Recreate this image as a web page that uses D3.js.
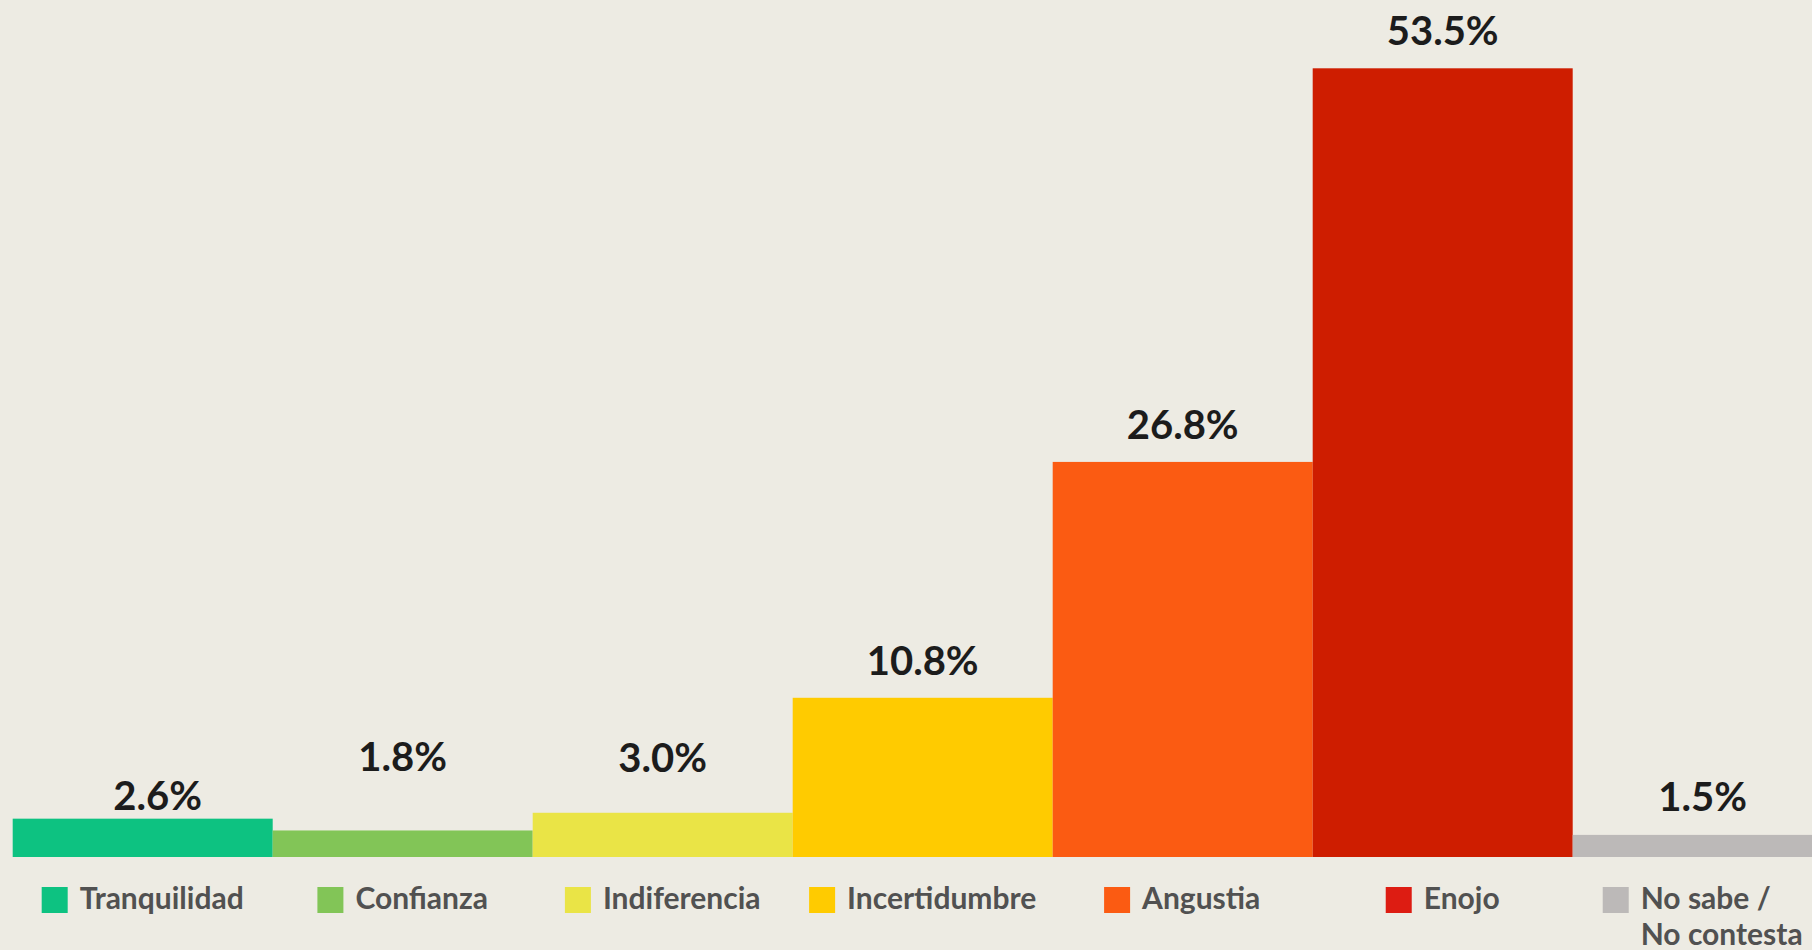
<!DOCTYPE html>
<html>
<head>
<meta charset="utf-8">
<script src="https://cdn.jsdelivr.net/npm/d3@7"></script>
<style>
  html, body { margin: 0; padding: 0; background: #edebe3; overflow: hidden; }
  svg { display: block; }
</style>
</head>
<body>
<svg width="1812" height="950"></svg>
<script>
var categories = ['Tranquilidad', 'Confianza', 'Indiferencia', 'Incertidumbre', 'Angustia', 'Enojo', 'No sabe / No contesta'];
var values = [2.6, 1.8, 3.0, 10.8, 26.8, 53.5, 1.5];
var valueLabels = ['2.6%', '1.8%', '3.0%', '10.8%', '26.8%', '53.5%', '1.5%'];
var legendLines = [['Tranquilidad'], ['Confianza'], ['Indiferencia'], ['Incertidumbre'], ['Angustia'], ['Enojo'], ['No sabe /', 'No contesta']];

var barColor = d3.scaleOrdinal()
  .domain(categories)
  .range(['#0dc281', '#82c557', '#eae446', '#ffcb00', '#fb5b12', '#ce1d00', '#bcb9b8']);

// legend swatch for Enojo is a brighter red than the bar
var swatchColor = d3.scaleOrdinal()
  .domain(categories)
  .range(['#0dc281', '#82c557', '#eae446', '#ffcb00', '#fb5b12', '#dd1c12', '#bcb9b8']);

var x = d3.scaleBand()
  .domain(categories)
  .range([12.7, 12.7 + 7 * 260])
  .padding(0);

var y = d3.scaleLinear()
  .domain([0, 53.5])
  .range([857, 68.3]);

// label baseline distance above bar top (small bars are staggered)
var labelGap = d3.scaleOrdinal()
  .domain(categories)
  .range([9, 59, 41, 23, 23, 23, 24]);
// first label sits a bit right of its bar centre
var labelShift = d3.scaleOrdinal()
  .domain(categories)
  .range([15, 0, 0, 0, 0, 0, 0]);

var svg = d3.select('svg');

svg.append('rect')
  .attr('width', 1812)
  .attr('height', 950)
  .attr('fill', '#edebe3');

svg.selectAll('.bar')
  .data(categories)
  .enter()
  .append('rect')
  .attr('class', 'bar')
  .attr('x', d => x(d))
  .attr('y', (d, i) => y(values[i]))
  .attr('width', x.bandwidth())
  .attr('height', (d, i) => y(0) - y(values[i]))
  .attr('fill', d => barColor(d));

svg.selectAll('.val')
  .data(categories)
  .enter()
  .append('text')
  .attr('class', 'val')
  .attr('x', d => x(d) + x.bandwidth() / 2 + labelShift(d))
  .attr('y', (d, i) => y(values[i]) - labelGap(d))
  .attr('text-anchor', 'middle')
  .attr('font-family', 'Lato, sans-serif')
  .attr('font-weight', 700)
  .attr('font-size', '40px')
  .attr('fill', '#1c1c1c')
  .text((d, i) => valueLabels[i]);

// Legend - one item centred under each bar
var legend = svg.selectAll('.leg')
  .data(categories)
  .enter()
  .append('g')
  .attr('class', 'leg');

legend.append('rect')
  .attr('width', 26)
  .attr('height', 26)
  .attr('y', 887)
  .attr('fill', d => swatchColor(d));

var legText = legend.append('text')
  .attr('x', 38)
  .attr('font-family', 'Lato, sans-serif')
  .attr('font-weight', 700)
  .attr('font-size', '30px')
  .attr('fill', '#515151');

legText.selectAll('tspan')
  .data((d, i) => legendLines[i])
  .enter()
  .append('tspan')
  .attr('x', 38)
  .attr('y', (d, j) => 909 + j * 36)
  .text(d => d);

legend.attr('transform', function (d) {
  var w = 38 + d3.select(this).select('text').node().getBBox().width;
  var cx = x(d) + x.bandwidth() / 2;
  return 'translate(' + (cx - w / 2) + ',0)';
});
</script>
</body>
</html>
